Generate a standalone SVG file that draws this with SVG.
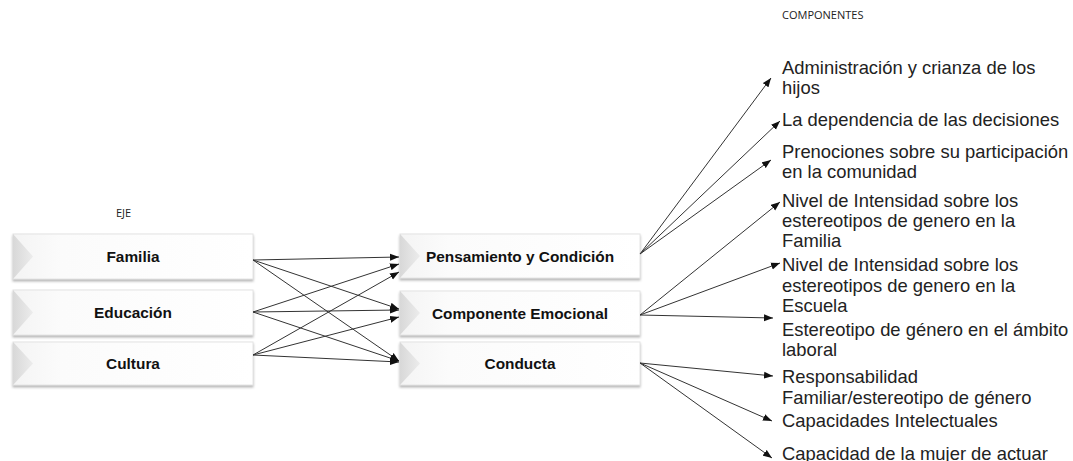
<svg xmlns="http://www.w3.org/2000/svg" width="1073" height="461" viewBox="0 0 1073 461">
<style>
.box{fill:url(#g);stroke:#e4e4e4;stroke-width:1;filter:url(#sh)}
.chev{fill:url(#cg)}
.bl{font-family:"Liberation Sans",Arial,sans-serif;font-weight:bold;font-size:15.4px;fill:#111;text-anchor:middle}
.t{font-family:"Liberation Sans",Arial,sans-serif;font-size:18.4px;fill:#222}
.h{font-family:"Open Sans","Liberation Sans",sans-serif;font-size:11px;fill:#222}
.c line{stroke:#333;stroke-width:1;marker-end:url(#a)}
</style>
<defs>
<linearGradient id="g" x1="0" y1="0" x2="1" y2="0">
<stop offset="0" stop-color="#f4f4f4"/>
<stop offset="0.2" stop-color="#fbfbfb"/>
<stop offset="1" stop-color="#ffffff"/>
</linearGradient>
<linearGradient id="cg" x1="0" y1="0" x2="1" y2="0">
<stop offset="0" stop-color="#d8d8d8"/>
<stop offset="1" stop-color="#ececec"/>
</linearGradient>
<filter id="sh" x="-5%" y="-20%" width="110%" height="150%">
<feDropShadow dx="0" dy="2" stdDeviation="1.2" flood-color="#999" flood-opacity="0.7"/>
</filter>
<marker id="a" markerWidth="10" markerHeight="8" refX="9" refY="4" orient="auto" markerUnits="userSpaceOnUse">
<path d="M0,0.5 L9,4 L0,7.5 Z" fill="#111"/>
</marker>
</defs>
<rect width="1073" height="461" fill="#fff"/>
<text class="h" x="782" y="19">COMPONENTES</text>
<text class="h" x="116" y="217">EJE</text>

<g id="familia"><rect class="box" x="13" y="234" width="240" height="45"/><polygon class="chev" points="13,234 33,256.5 13,279"/><text class="bl" x="133" y="262">Familia</text></g>
<g id="educacion"><rect class="box" x="13" y="290" width="240" height="45"/><polygon class="chev" points="13,290 33,312.5 13,335"/><text class="bl" x="133" y="318">Educación</text></g>
<g id="cultura"><rect class="box" x="13" y="342" width="240" height="43"/><polygon class="chev" points="13,342 33,363.5 13,385"/><text class="bl" x="133" y="369">Cultura</text></g>

<g id="pensamiento"><rect class="box" x="400" y="234" width="240" height="44"/><polygon class="chev" points="400,234 420,256 400,278"/><text class="bl" x="520" y="262">Pensamiento y Condición</text></g>
<g id="emocional"><rect class="box" x="400" y="291" width="240" height="44"/><polygon class="chev" points="400,291 420,313 400,335"/><text class="bl" x="520" y="319">Componente Emocional</text></g>
<g id="conducta"><rect class="box" x="400" y="342" width="240" height="43"/><polygon class="chev" points="400,342 420,363.5 400,385"/><text class="bl" x="520" y="369">Conducta</text></g>

<g class="c" id="connectors">
<line x1="253" y1="260" x2="399" y2="257"/>
<line x1="253" y1="260" x2="399" y2="309"/>
<line x1="253" y1="260" x2="399" y2="361"/>
<line x1="253" y1="312" x2="399" y2="264"/>
<line x1="253" y1="312" x2="399" y2="310"/>
<line x1="253" y1="312" x2="399" y2="361"/>
<line x1="253" y1="355" x2="399" y2="272"/>
<line x1="253" y1="355" x2="399" y2="317"/>
<line x1="253" y1="355" x2="399" y2="362"/>
<line x1="640" y1="254" x2="771" y2="78"/>
<line x1="640" y1="254" x2="780" y2="121"/>
<line x1="640" y1="254" x2="771" y2="160"/>
<line x1="640" y1="315" x2="780" y2="202"/>
<line x1="640" y1="315" x2="780" y2="263"/>
<line x1="640" y1="315" x2="773" y2="318"/>
<line x1="640" y1="363" x2="773" y2="376"/>
<line x1="640" y1="363" x2="772" y2="421"/>
<line x1="640" y1="363" x2="772" y2="458"/>
</g>

<g id="labels">
<text class="t" x="782" y="74">Administración y crianza de los</text>
<text class="t" x="782" y="94">hijos</text>
<text class="t" x="782" y="126">La dependencia de las decisiones</text>
<text class="t" x="782" y="158">Prenociones sobre su participación</text>
<text class="t" x="782" y="178">en la comunidad</text>
<text class="t" x="782" y="207">Nivel de Intensidad sobre los</text>
<text class="t" x="782" y="227">estereotipos de genero en la</text>
<text class="t" x="782" y="247">Familia</text>
<text class="t" x="782" y="271">Nivel de Intensidad sobre los</text>
<text class="t" x="782" y="292">estereotipos de genero en la</text>
<text class="t" x="782" y="312">Escuela</text>
<text class="t" x="782" y="336">Estereotipo de género en el ámbito</text>
<text class="t" x="782" y="356">laboral</text>
<text class="t" x="782" y="383">Responsabilidad</text>
<text class="t" x="782" y="404">Familiar/estereotipo de género</text>
<text class="t" x="782" y="427">Capacidades Intelectuales</text>
<text class="t" x="782" y="460">Capacidad de la mujer de actuar</text>
</g>
</svg>
